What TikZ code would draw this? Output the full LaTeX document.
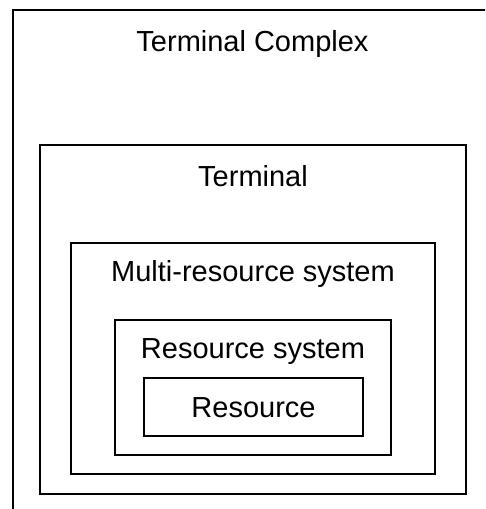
\documentclass[tikz,border=0pt]{standalone}
\usepackage{fontspec}
\setmainfont{Liberation Sans}
\begin{document}
\begin{tikzpicture}[x=1pt,y=-1pt,
  boxstyle/.style={draw=black, line width=2pt, rectangle, inner sep=0pt, outer sep=0pt},
  lbl/.style={inner sep=0pt, anchor=base, font=\fontsize{29}{34}\selectfont}]
\useasboundingbox (0,0) rectangle (485,509);
\fill[white] (0,0) rectangle (485,509);
\begin{scope}
\clip (0,0) rectangle (485,509);
\node[boxstyle, minimum width=500pt, minimum height=540pt, anchor=north west] (complex) at (13,10) {};
\end{scope}
\node[boxstyle, minimum width=426pt, minimum height=349pt] (terminal) at (253,319.5) {};
\node[boxstyle, minimum width=364pt, minimum height=231pt] (multi) at (253,358.5) {};
\node[boxstyle, minimum width=276pt, minimum height=135pt] (rsys) at (253,387.5) {};
\node[boxstyle, minimum width=219pt, minimum height=58pt] (res) at (253.5,407) {};
\node[lbl] (tcomplex) at (252.5,51) {Terminal Complex};
\node[lbl] (tterm) at (253,186) {Terminal};
\node[lbl] (tmulti) at (253,281) {Multi-resource system};
\node[lbl] (trsys) at (253,358) {Resource system};
\node[lbl] (tres) at (253.5,417) {Resource};
\end{tikzpicture}
\end{document}
